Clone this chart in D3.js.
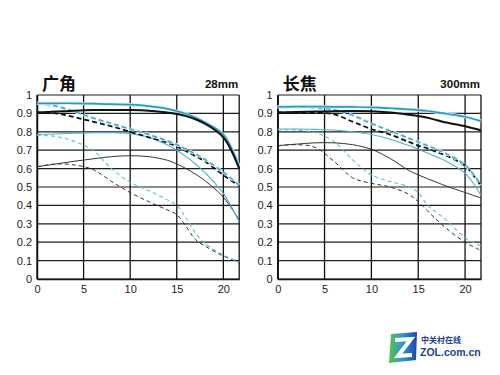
<!DOCTYPE html>
<html>
<head>
<meta charset="utf-8">
<script src="https://cdn.jsdelivr.net/npm/d3@7"></script>
<style>
  body { margin: 0; background: #fff; }
  svg { display: block; }
  .tick text { font-family: "Liberation Sans", Arial, sans-serif; font-size: 11px; fill: #222; }
</style>
</head>
<body>
<div id="chart"></div>
<script>
// image height positions (mm from centre)
const xs = [0, 2, 4, 6, 8, 10, 12, 14, 15, 16, 17, 18, 20, 21.7]
const x_ticks = [0, 5, 10, 15, 20]

// 广角 28mm
const wide_black_thick_solid  = [0.905, 0.91, 0.915, 0.918, 0.918, 0.918, 0.915, 0.905, 0.897, 0.885, 0.868, 0.845, 0.77, 0.6]
const wide_blue_thick_solid   = [0.955, 0.955, 0.955, 0.953, 0.95, 0.948, 0.94, 0.925, 0.912, 0.897, 0.878, 0.852, 0.785, 0.61]
const wide_black_thick_dashed = [0.905, 0.9, 0.88, 0.855, 0.83, 0.8, 0.77, 0.74, 0.72, 0.695, 0.668, 0.64, 0.565, 0.505]
const wide_blue_thick_dashed  = [0.955, 0.94, 0.91, 0.875, 0.845, 0.815, 0.785, 0.75, 0.73, 0.705, 0.68, 0.65, 0.58, 0.51]
const wide_blue_thin_solid    = [0.785, 0.788, 0.792, 0.795, 0.795, 0.79, 0.77, 0.728, 0.7, 0.665, 0.625, 0.58, 0.465, 0.31]
const wide_black_thin_solid   = [0.61, 0.625, 0.64, 0.653, 0.665, 0.67, 0.665, 0.645, 0.625, 0.6, 0.57, 0.535, 0.445, 0.32]
const wide_blue_thin_dashed   = [0.78, 0.775, 0.748, 0.7, 0.6, 0.525, 0.48, 0.43, 0.4, 0.33, 0.25, 0.195, 0.13, 0.093]
const wide_black_thin_dashed  = [0.61, 0.625, 0.62, 0.595, 0.53, 0.47, 0.42, 0.375, 0.35, 0.285, 0.215, 0.18, 0.125, 0.09]

// 长焦 300mm
const tele_black_thick_solid  = [0.905, 0.907, 0.91, 0.912, 0.913, 0.912, 0.905, 0.893, 0.886, 0.876, 0.863, 0.85, 0.83, 0.808]
const tele_blue_thick_solid   = [0.935, 0.937, 0.937, 0.936, 0.935, 0.933, 0.928, 0.922, 0.918, 0.913, 0.906, 0.898, 0.882, 0.858]
const tele_black_thick_dashed = [0.905, 0.905, 0.905, 0.895, 0.855, 0.815, 0.785, 0.745, 0.725, 0.71, 0.69, 0.67, 0.615, 0.505]
const tele_blue_thick_dashed  = [0.935, 0.935, 0.93, 0.92, 0.89, 0.845, 0.805, 0.765, 0.745, 0.725, 0.703, 0.68, 0.62, 0.51]
const tele_blue_thin_solid    = [0.815, 0.815, 0.813, 0.81, 0.8, 0.785, 0.76, 0.725, 0.705, 0.685, 0.663, 0.64, 0.575, 0.455]
const tele_black_thin_solid   = [0.725, 0.733, 0.74, 0.74, 0.73, 0.705, 0.655, 0.59, 0.566, 0.545, 0.525, 0.505, 0.47, 0.44]
const tele_blue_thin_dashed   = [0.81, 0.81, 0.795, 0.747, 0.647, 0.566, 0.53, 0.5, 0.47, 0.4, 0.36, 0.32, 0.225, 0.18]
const tele_black_thin_dashed  = [0.723, 0.73, 0.715, 0.64, 0.55, 0.52, 0.5, 0.46, 0.42, 0.37, 0.32, 0.275, 0.2, 0.155]

const w = 500
const h = 375

const svg = d3.select("#chart")
    .append("svg")
    .attr("width", w)
    .attr("height", h)

// line styles for each kind of curve
const styles = {
    black_thick_solid:  {color: "#111", width: 2, dash: null},
    blue_thick_solid:   {color: "#2b9ac4", width: 1.7, dash: null},
    black_thick_dashed: {color: "#111", width: 1.8, dash: "5,3"},
    blue_thick_dashed:  {color: "#3aa6cc", width: 1.5, dash: "5,3"},
    blue_thin_solid:    {color: "#4fb0cc", width: 1.1, dash: null},
    black_thin_solid:   {color: "#333", width: 1, dash: null},
    blue_thin_dashed:   {color: "#5ec1d8", width: 1.1, dash: "4,3"},
    black_thin_dashed:  {color: "#333", width: 1, dash: "4,3"}
}

function draw_panel(left, right, title, focal, curves) {
    const top = 95, bottom = 279

    const x = d3.scaleLinear().domain([0, 21.7]).range([left, right])
    const y = d3.scaleLinear().domain([0, 1]).range([bottom, top])

    const g = svg.append("g")

    // grid
    g.selectAll(".hgrid")
        .data(y.ticks(10))
        .enter().append("line")
        .attr("x1", left).attr("x2", right)
        .attr("y1", d => y(d)).attr("y2", d => y(d))
        .attr("stroke", "#1c1c1c")
        .attr("stroke-width", 1.2)

    g.selectAll(".vgrid")
        .data(x_ticks.concat([21.7]))
        .enter().append("line")
        .attr("x1", d => x(d)).attr("x2", d => x(d))
        .attr("y1", top).attr("y2", bottom)
        .attr("stroke", "#111")
        .attr("stroke-width", 1.3)

    // axes (labels only)
    const yAxis = g.append("g")
        .attr("transform", `translate(${left},0)`)
        .call(d3.axisLeft(y).ticks(10).tickSize(0).tickPadding(5).tickFormat(d => String(d)))
    yAxis.select(".domain").attr("stroke", "#111").attr("stroke-width", 1.5)

    const xAxis = g.append("g")
        .attr("transform", `translate(0,${bottom})`)
        .call(d3.axisBottom(x).tickValues(x_ticks).tickSize(0).tickPadding(6))
    xAxis.select(".domain").attr("stroke", "#111").attr("stroke-width", 1.5)

    // curves
    const line = d3.line()
        .x((d, i) => x(xs[i]))
        .y(d => y(d))
        .curve(d3.curveCatmullRom.alpha(0.5))

    const order = ["black_thin_dashed", "blue_thin_dashed", "black_thin_solid", "blue_thin_solid",
                   "black_thick_dashed", "blue_thick_dashed", "blue_thick_solid", "black_thick_solid"]
    order.forEach(k => {
        const s = styles[k]
        if (k.startsWith("blue_thick")) {
            // soft halo like the original scan
            g.append("path")
                .attr("d", line(curves[k]))
                .attr("fill", "none")
                .attr("stroke", "#d2f0f8")
                .attr("stroke-width", 3.2)
                .attr("stroke-dasharray", s.dash)
        }
        g.append("path")
            .attr("d", line(curves[k]))
            .attr("fill", "none")
            .attr("stroke", s.color)
            .attr("stroke-width", s.width)
            .attr("stroke-dasharray", s.dash)
    })

    // titles
    svg.append("text")
        .attr("x", left + 5)
        .attr("y", 90)
        .attr("font-family", "'Noto Sans CJK SC', sans-serif")
        .attr("font-weight", "bold")
        .attr("font-size", 17)
        .attr("fill", "#111")
        .text(title)

    svg.append("text")
        .attr("x", right - 1)
        .attr("y", 88)
        .attr("text-anchor", "end")
        .attr("font-family", "'Liberation Sans', Arial, sans-serif")
        .attr("font-weight", "bold")
        .attr("font-size", 11.5)
        .attr("fill", "#111")
        .text(focal)
}

draw_panel(37, 239.2, "广角", "28mm", {
    black_thick_solid: wide_black_thick_solid,
    blue_thick_solid: wide_blue_thick_solid,
    black_thick_dashed: wide_black_thick_dashed,
    blue_thick_dashed: wide_blue_thick_dashed,
    blue_thin_solid: wide_blue_thin_solid,
    black_thin_solid: wide_black_thin_solid,
    blue_thin_dashed: wide_blue_thin_dashed,
    black_thin_dashed: wide_black_thin_dashed
})

draw_panel(277.7, 481, "长焦", "300mm", {
    black_thick_solid: tele_black_thick_solid,
    blue_thick_solid: tele_blue_thick_solid,
    black_thick_dashed: tele_black_thick_dashed,
    blue_thick_dashed: tele_blue_thick_dashed,
    blue_thin_solid: tele_blue_thin_solid,
    black_thin_solid: tele_black_thin_solid,
    blue_thin_dashed: tele_blue_thin_dashed,
    black_thin_dashed: tele_black_thin_dashed
})

// watermark logo
const logo = svg.append("g").attr("transform", "translate(387,332)")
const grad = svg.append("defs").append("linearGradient")
    .attr("id", "zg").attr("x1", "0").attr("x2", "1").attr("y1", "0").attr("y2", "0")
grad.append("stop").attr("offset", "0").attr("stop-color", "#5cc23a")
grad.append("stop").attr("offset", "0.45").attr("stop-color", "#2f9ad6")
grad.append("stop").attr("offset", "1").attr("stop-color", "#1d47a8")
logo.append("path")
    .attr("d", "M4,2 L30,0 L29,28 L2,31 Z")
    .attr("fill", "url(#zg)")
logo.append("path")
    .attr("d", "M8,8 L24,7 L11,24 L25,23")
    .attr("fill", "none")
    .attr("stroke", "#fff")
    .attr("stroke-width", 4)
    .attr("stroke-linejoin", "miter")
logo.append("text")
    .attr("x", 34).attr("y", 11)
    .attr("font-family", "'Noto Sans CJK SC', sans-serif")
    .attr("font-weight", "bold")
    .attr("font-size", 8)
    .attr("fill", "#1b3f8f")
    .text("中关村在线")
logo.append("text")
    .attr("x", 33).attr("y", 24)
    .attr("font-family", "'Liberation Sans', Arial, sans-serif")
    .attr("font-weight", "bold")
    .attr("font-size", 10.5)
    .attr("fill", "#1b3f8f")
    .text("ZOL.com.cn")
</script>
</body>
</html>
